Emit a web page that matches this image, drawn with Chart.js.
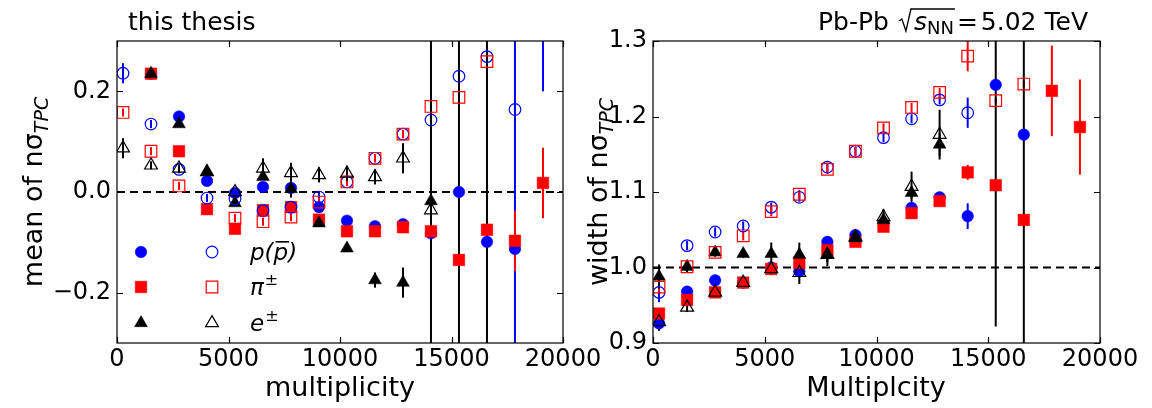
<!DOCTYPE html>
<html><head><meta charset="utf-8">
<script src="https://cdn.jsdelivr.net/npm/chart.js@4.4.0/dist/chart.umd.min.js"></script>
<style>
html,body{margin:0;padding:0;background:#fff;}
#wrap{position:relative;width:1152px;height:408px;overflow:hidden;background:#fff;}
canvas{position:absolute;top:0;}
#c1{left:0;z-index:1}
#c2{left:580px;z-index:2}
</style></head><body>
<div id="wrap"><canvas id="c1" width="610" height="408"></canvas><canvas id="c2" width="572" height="408"></canvas></div>
<script>
// ---------------- data ----------------
const multiplicity = [270, 1525, 2780, 4036, 5291, 6547, 7802, 9058, 10313, 11569, 12824, 14080, 15335, 16591, 17846, 19102];

const xTicks = [0, 5000, 10000, 15000, 20000];
const xTickLabels = ["0", "5000", "10000", "15000", "20000"];
const meanTicks = [-0.2, 0.0, 0.2];
const meanTickLabels = ["\u22120.2", "0.0", "0.2"];
const widthTicks = [0.9, 1.0, 1.1, 1.2, 1.3];
const widthTickLabels = ["0.9", "1.0", "1.1", "1.2", "1.3"];

// left panel: mean of n sigma_TPC
const meanProtonFilled    = [null, 0.235, 0.150, 0.022, -0.002, 0.010, 0.008, -0.030, -0.057, -0.068, -0.064, -0.082, 0.000, -0.099, -0.113, null];
const meanProtonFilledErr = [0, 0.004, 0.004, 0.004, 0.004, 0.004, 0.004, 0.004, 0.004, 0.004, 0.004, 0.004, 0.004, 0.006, 1.0, 0];
const meanProtonOpen      = [0.236, 0.135, 0.045, -0.012, -0.014, -0.037, -0.030, -0.010, 0.020, 0.067, 0.115, 0.143, 0.230, 0.269, 0.164, 0.40];
const meanProtonOpenErr   = [0.02, 0.008, 0.008, 0.008, 0.008, 0.008, 0.008, 0.008, 0.008, 0.008, 0.008, 0.008, 0.008, 0.008, 0.008, 0.20];
const meanPionFilled      = [null, 0.235, 0.081, -0.034, -0.073, -0.036, -0.030, -0.055, -0.078, -0.078, -0.070, -0.078, -0.135, -0.075, -0.097, 0.018];
const meanPionFilledErr   = [0, 0.004, 0.004, 0.004, 0.004, 0.004, 0.004, 0.004, 0.004, 0.004, 0.004, 0.004, 0.004, 0.004, 0.06, 0.07];
const meanPionOpen        = [0.158, 0.081, 0.012, null, -0.052, -0.059, -0.050, -0.020, 0.020, 0.067, 0.115, 0.170, 0.188, 0.259, null, null];
const meanPionOpenErr     = [0.008, 0.008, 0.008, 0, 0.008, 0.008, 0.008, 0.008, 0.008, 0.008, 0.008, 0.008, 0.008, 0.008, 0, 0];
const meanElectronFilled    = [null, 0.235, 0.135, 0.040, -0.022, 0.030, 0.006, -0.062, -0.112, -0.175, -0.180, -0.018, -0.50, -0.50, null, null];
const meanElectronFilledErr = [0, 0.004, 0.004, 0.006, 0.006, 0.006, 0.017, 0.006, 0.006, 0.015, 0.03, 1.0, 1.0, 1.0, 0, 0];
const meanElectronOpen      = [0.087, 0.053, 0.047, 0.040, 0.000, 0.047, 0.038, 0.034, 0.037, 0.030, 0.067, -0.036, null, null, null, null];
const meanElectronOpenErr   = [0.02, 0.008, 0.008, 0.008, 0.008, 0.02, 0.02, 0.015, 0.015, 0.015, 0.03, 0.02, 0, 0, 0, 0];

// right panel: width of n sigma_TPC
const widthProtonFilled    = [0.926, 0.968, 0.983, 0.980, 1.000, 0.995, 1.034, 1.043, 1.058, 1.079, 1.093, 1.068, 1.242, 1.176, null, null];
const widthProtonFilledErr = [0.004, 0.003, 0.003, 0.003, 0.003, 0.003, 0.003, 0.003, 0.003, 0.003, 0.003, 0.017, 0.004, 0.004, 0, 0];
const widthProtonOpen      = [0.967, 1.029, 1.047, 1.055, 1.080, 1.093, 1.133, 1.154, 1.172, 1.197, 1.222, 1.205, null, null, null, null];
const widthProtonOpenErr   = [0.013, 0.006, 0.006, 0.006, 0.006, 0.006, 0.006, 0.006, 0.006, 0.006, 0.006, 0.02, 0, 0, 0, 0];
const widthPionFilled      = [0.939, 0.957, 0.967, 0.980, 0.998, 1.006, 1.023, 1.034, 1.054, 1.072, 1.088, 1.126, 1.109, 1.063, 1.234, 1.186];
const widthPionFilledErr   = [0.003, 0.003, 0.003, 0.003, 0.003, 0.003, 0.003, 0.003, 0.003, 0.003, 0.003, 0.01, 0.005, 0.005, 0.06, 0.063];
const widthPionOpen        = [0.974, 1.001, 1.020, 1.042, 1.074, 1.097, 1.130, 1.154, 1.185, 1.212, 1.232, 1.280, 1.221, 1.243, null, null];
const widthPionOpenErr     = [0.006, 0.006, 0.006, 0.006, 0.006, 0.006, 0.006, 0.006, 0.006, 0.006, 0.006, 0.02, 0.004, 0.004, 0, 0];
const widthElectronFilled    = [0.988, 1.001, 1.020, 1.018, 1.018, 1.017, 1.017, 1.039, 1.063, 1.099, 1.163, null, 1.50, 1.50, null, null];
const widthElectronFilledErr = [0.016, 0.008, 0.005, 0.005, 0.015, 0.016, 0.015, 0.005, 0.008, 0.008, 0.015, 0, 0.578, 0.70, 0, 0];
const widthElectronOpen      = [0.928, 0.947, 0.967, 0.980, 0.998, 0.993, 1.017, 1.040, 1.067, 1.107, 1.176, null, null, null, null, null];
const widthElectronOpenErr   = [0.012, 0.006, 0.005, 0.005, 0.008, 0.015, 0.01, 0.005, 0.01, 0.02, 0.033, 0, 0, 0, 0, 0];

// ---------------- styling ----------------
const FONT = 'DejaVu Sans';
Chart.defaults.font.family = FONT;
const BLUE = '#0000ff', RED = '#ff0000', BLACK = '#000000';
const markerStyle = {
  circle:   { pointStyle: 'circle',   radius: 5.8 },
  rect:     { pointStyle: 'rect',     radius: 8.2 },
  triangle: { pointStyle: 'triangle', radius: 7.4 }
};

function series(label, vals, errs, shape, color, filled, order) {
  const st = markerStyle[shape];
  const data = [];
  multiplicity.forEach((x, i) => { if (vals[i] !== null) data.push({ x: x, y: vals[i], e: errs[i] }); });
  return {
    label, data, order,
    errColor: color,
    pointStyle: st.pointStyle,
    pointRadius: st.radius,
    pointHoverRadius: st.radius,
    backgroundColor: filled ? color : 'rgba(255,255,255,0)',
    borderColor: color,
    borderWidth: filled ? 0.5 : 1.2,
    showLine: false
  };
}

function makeDatasets(pF, pFe, pO, pOe, piF, piFe, piO, piOe, eF, eFe, eO, eOe) {
  return [
    series('p filled', pF, pFe, 'circle', BLUE, true, 6),
    series('p open', pO, pOe, 'circle', BLUE, false, 3),
    series('pi filled', piF, piFe, 'rect', RED, true, 5),
    series('pi open', piO, piOe, 'rect', RED, false, 2),
    series('e filled', eF, eFe, 'triangle', BLACK, true, 4),
    series('e open', eO, eOe, 'triangle', BLACK, false, 1)
  ];
}

// error bars + reference dashed line, beneath markers
const errPlugin = {
  id: 'errbars',
  beforeDatasetsDraw(chart) {
    const ctx = chart.ctx, a = chart.chartArea, xs = chart.scales.x, ys = chart.scales.y;
    ctx.save();
    ctx.beginPath(); ctx.rect(a.left, a.top, a.right - a.left, a.bottom - a.top); ctx.clip();
    const ref = chart.options.plugins.refLine;
    const ry = ys.getPixelForValue(ref);
    ctx.strokeStyle = '#000'; ctx.lineWidth = 2; ctx.setLineDash([8, 5]);
    ctx.beginPath(); ctx.moveTo(a.left, ry); ctx.lineTo(a.right, ry); ctx.stroke();
    ctx.setLineDash([]);
    ctx.lineWidth = 2;
    chart.data.datasets.forEach(ds => {
      ctx.strokeStyle = ds.errColor;
      ds.data.forEach(p => {
        if (!p.e) return;
        const x = xs.getPixelForValue(p.x);
        ctx.beginPath();
        ctx.moveTo(x, ys.getPixelForValue(p.y - p.e));
        ctx.lineTo(x, ys.getPixelForValue(p.y + p.e));
        ctx.stroke();
      });
    });
    ctx.restore();
  },
  afterDatasetsDraw(chart) {
    const ctx = chart.ctx, a = chart.chartArea, xs = chart.scales.x, ys = chart.scales.y;
    ctx.save();
    ctx.strokeStyle = '#000'; ctx.lineWidth = 1.2;
    ctx.strokeRect(a.left, a.top, a.right - a.left, a.bottom - a.top);
    ctx.beginPath();
    xs.ticks.forEach(t => {
      const x = Math.round(xs.getPixelForValue(t.value)) + 0.5;
      ctx.moveTo(x, a.bottom); ctx.lineTo(x, a.bottom - 6);
      ctx.moveTo(x, a.top); ctx.lineTo(x, a.top + 6);
    });
    ys.ticks.forEach(t => {
      const y = Math.round(ys.getPixelForValue(t.value)) + 0.5;
      ctx.moveTo(a.left, y); ctx.lineTo(a.left + 6, y);
      ctx.moveTo(a.right, y); ctx.lineTo(a.right - 6, y);
    });
    ctx.stroke();
    ctx.restore();
  }
};

function drawRotatedTitle(ctx, x, yc, main, sub) {
  ctx.save();
  ctx.font = '27px "' + FONT + '"';
  const w1 = ctx.measureText(main).width;
  ctx.font = 'italic 19px "' + FONT + '"';
  const w2 = ctx.measureText(sub).width;
  const total = w1 + w2;
  ctx.translate(x, yc);
  ctx.rotate(-Math.PI / 2);
  ctx.fillStyle = '#000';
  ctx.textBaseline = 'alphabetic';
  ctx.textAlign = 'left';
  ctx.font = '27px "' + FONT + '"';
  ctx.fillText(main, -total / 2, 0);
  ctx.font = 'italic 19px "' + FONT + '"';
  ctx.fillText(sub, -total / 2 + w1, 6);
  ctx.restore();
}

function scaleOpts(ticks, labels, min, max, isX, fitSize) {
  return {
    type: 'linear', min, max,
    grid: { display: false, drawTicks: false },
    border: { display: false },
    afterBuildTicks: s => { s.ticks = ticks.map(v => ({ value: v })); },
    afterFit: s => {
      if (isX) { s.height = fitSize; s.paddingLeft = 0; s.paddingRight = 0; }
      else { s.width = fitSize; }
    },
    ticks: {
      color: '#000',
      font: { size: 24, family: FONT },
      padding: isX ? 2 : 6,
      autoSkip: false, maxRotation: 0,
      callback: (v) => { const i = ticks.findIndex(t => Math.abs(t - v) < 1e-9); return i >= 0 ? labels[i] : ''; }
    }
  };
}

// ---------------- left chart ----------------
const leftText = {
  id: 'leftText',
  afterDraw(chart) {
    const ctx = chart.ctx;
    ctx.save();
    ctx.fillStyle = '#000';
    ctx.font = '25px "' + FONT + '"';
    ctx.textBaseline = 'alphabetic';
    ctx.textAlign = 'left';
    ctx.fillText('this thesis', 128, 30);
    ctx.font = '27px "' + FONT + '"';
    ctx.textAlign = 'center';
    ctx.fillText('multiplicity', 340, 396);
    drawRotatedTitle(ctx, 42, 192, 'mean of n\u03c3', 'TPC');
    // legend
    const rows = [
      { y: 252, color: BLUE, shape: 'circle' },
      { y: 287, color: RED, shape: 'rect' },
      { y: 323, color: BLACK, shape: 'triangle' }
    ];
    rows.forEach(r => {
      const st = markerStyle[r.shape];
      ctx.fillStyle = r.color; ctx.strokeStyle = r.color; ctx.lineWidth = 0.5;
      Chart.helpers.drawPoint(ctx, { pointStyle: st.pointStyle, radius: st.radius, rotation: 0, borderWidth: 0.5 }, 141, r.y);
      ctx.fillStyle = 'rgba(255,255,255,0)'; ctx.lineWidth = 1.2;
      Chart.helpers.drawPoint(ctx, { pointStyle: st.pointStyle, radius: st.radius, rotation: 0, borderWidth: 1.2 }, 212, r.y);
    });
    ctx.fillStyle = '#000';
    ctx.textAlign = 'left';
    const ital = 'italic 23px "' + FONT + '"';
    const supF = '16px "' + FONT + '"';
    let x = 250, y = 260;
    ctx.font = ital;
    ctx.fillText('p(', x, y); x += ctx.measureText('p(').width;
    const pw = ctx.measureText('p').width;
    ctx.fillText('p', x, y);
    ctx.fillRect(x + 2, y - 19, pw - 1, 1.6);
    x += pw;
    ctx.fillText(')', x, y);
    x = 250; y = 295;
    ctx.font = ital; ctx.fillText('\u03c0', x, y); x += ctx.measureText('\u03c0').width + 1;
    ctx.font = supF; ctx.fillText('\u00b1', x, y - 10);
    x = 250; y = 331;
    ctx.font = ital; ctx.fillText('e', x, y); x += ctx.measureText('e').width + 1;
    ctx.font = supF; ctx.fillText('\u00b1', x, y - 10);
    ctx.restore();
  }
};

new Chart(document.getElementById('c1'), {
  type: 'scatter',
  data: { datasets: makeDatasets(meanProtonFilled, meanProtonFilledErr, meanProtonOpen, meanProtonOpenErr,
                                 meanPionFilled, meanPionFilledErr, meanPionOpen, meanPionOpenErr,
                                 meanElectronFilled, meanElectronFilledErr, meanElectronOpen, meanElectronOpenErr) },
  options: {
    responsive: false, animation: false, events: [],
    devicePixelRatio: 1,
    layout: { padding: { top: 41, right: 47, left: 0, bottom: 0 } },
    plugins: { legend: { display: false }, tooltip: { enabled: false }, refLine: 0 },
    scales: {
      x: scaleOpts(xTicks, xTickLabels, 0, 20000, true, 65),
      y: scaleOpts(meanTicks, meanTickLabels, -0.3, 0.3, false, 117)
    }
  },
  plugins: [errPlugin, leftText]
});

// ---------------- right chart ----------------
const rightText = {
  id: 'rightText',
  afterDraw(chart) {
    const ctx = chart.ctx;
    ctx.save();
    ctx.fillStyle = '#000'; ctx.strokeStyle = '#000';
    ctx.textBaseline = 'alphabetic';
    ctx.font = '27px "' + FONT + '"';
    ctx.textAlign = 'center';
    ctx.fillText('Multiplcity', 296, 396);
    drawRotatedTitle(ctx, 27, 192, 'width of n\u03c3', 'TPC');
    // title: Pb-Pb sqrt(s_NN) = 5.02 TeV
    ctx.textAlign = 'left';
    const reg = '25px "' + FONT + '"';
    const ital = 'italic 25px "' + FONT + '"';
    const sub = '18px "' + FONT + '"';
    const y = 30;
    ctx.font = reg; const wPb = ctx.measureText('Pb-Pb').width;
    ctx.font = ital; const wS = ctx.measureText('s').width;
    ctx.font = sub; const wNN = ctx.measureText('NN').width;
    ctx.font = reg; const wEqS = ctx.measureText('=').width; const w502 = ctx.measureText('5.02').width; const wTeV = ctx.measureText('TeV').width;
    const sp1 = 10, rad = 15, sp2 = 3, sp3 = 3, sp4 = 8;
    const total = wPb + sp1 + rad + wS + wNN + sp2 + wEqS + sp3 + w502 + sp4 + wTeV;
    let x = 508 - total;
    ctx.font = reg; ctx.fillText('Pb-Pb', x, y); x += wPb + sp1;
    ctx.lineWidth = 1.3;
    ctx.beginPath();
    ctx.moveTo(x, y - 9); ctx.lineTo(x + 3, y - 11); ctx.lineTo(x + 7, y + 1); ctx.lineTo(x + 12, y - 21);
    ctx.lineTo(x + rad + wS + wNN + 1, y - 21);
    ctx.stroke();
    x += rad;
    ctx.font = ital; ctx.fillText('s', x, y); x += wS;
    ctx.font = sub; ctx.fillText('NN', x, y + 4); x += wNN + sp2;
    ctx.font = reg; ctx.fillText('=', x, y); x += wEqS + sp3;
    ctx.fillText('5.02', x, y); x += w502 + sp4;
    ctx.fillText('TeV', x, y);
    ctx.restore();
  }
};

new Chart(document.getElementById('c2'), {
  type: 'scatter',
  data: { datasets: makeDatasets(widthProtonFilled, widthProtonFilledErr, widthProtonOpen, widthProtonOpenErr,
                                 widthPionFilled, widthPionFilledErr, widthPionOpen, widthPionOpenErr,
                                 widthElectronFilled, widthElectronFilledErr, widthElectronOpen, widthElectronOpenErr) },
  options: {
    responsive: false, animation: false, events: [],
    devicePixelRatio: 1,
    layout: { padding: { top: 41, right: 52, left: 0, bottom: 0 } },
    plugins: { legend: { display: false }, tooltip: { enabled: false }, refLine: 1.0 },
    scales: {
      x: scaleOpts(xTicks, xTickLabels, 0, 20000, true, 65),
      y: scaleOpts(widthTicks, widthTickLabels, 0.9, 1.3, false, 73)
    }
  },
  plugins: [errPlugin, rightText]
});
</script>
</body></html>
